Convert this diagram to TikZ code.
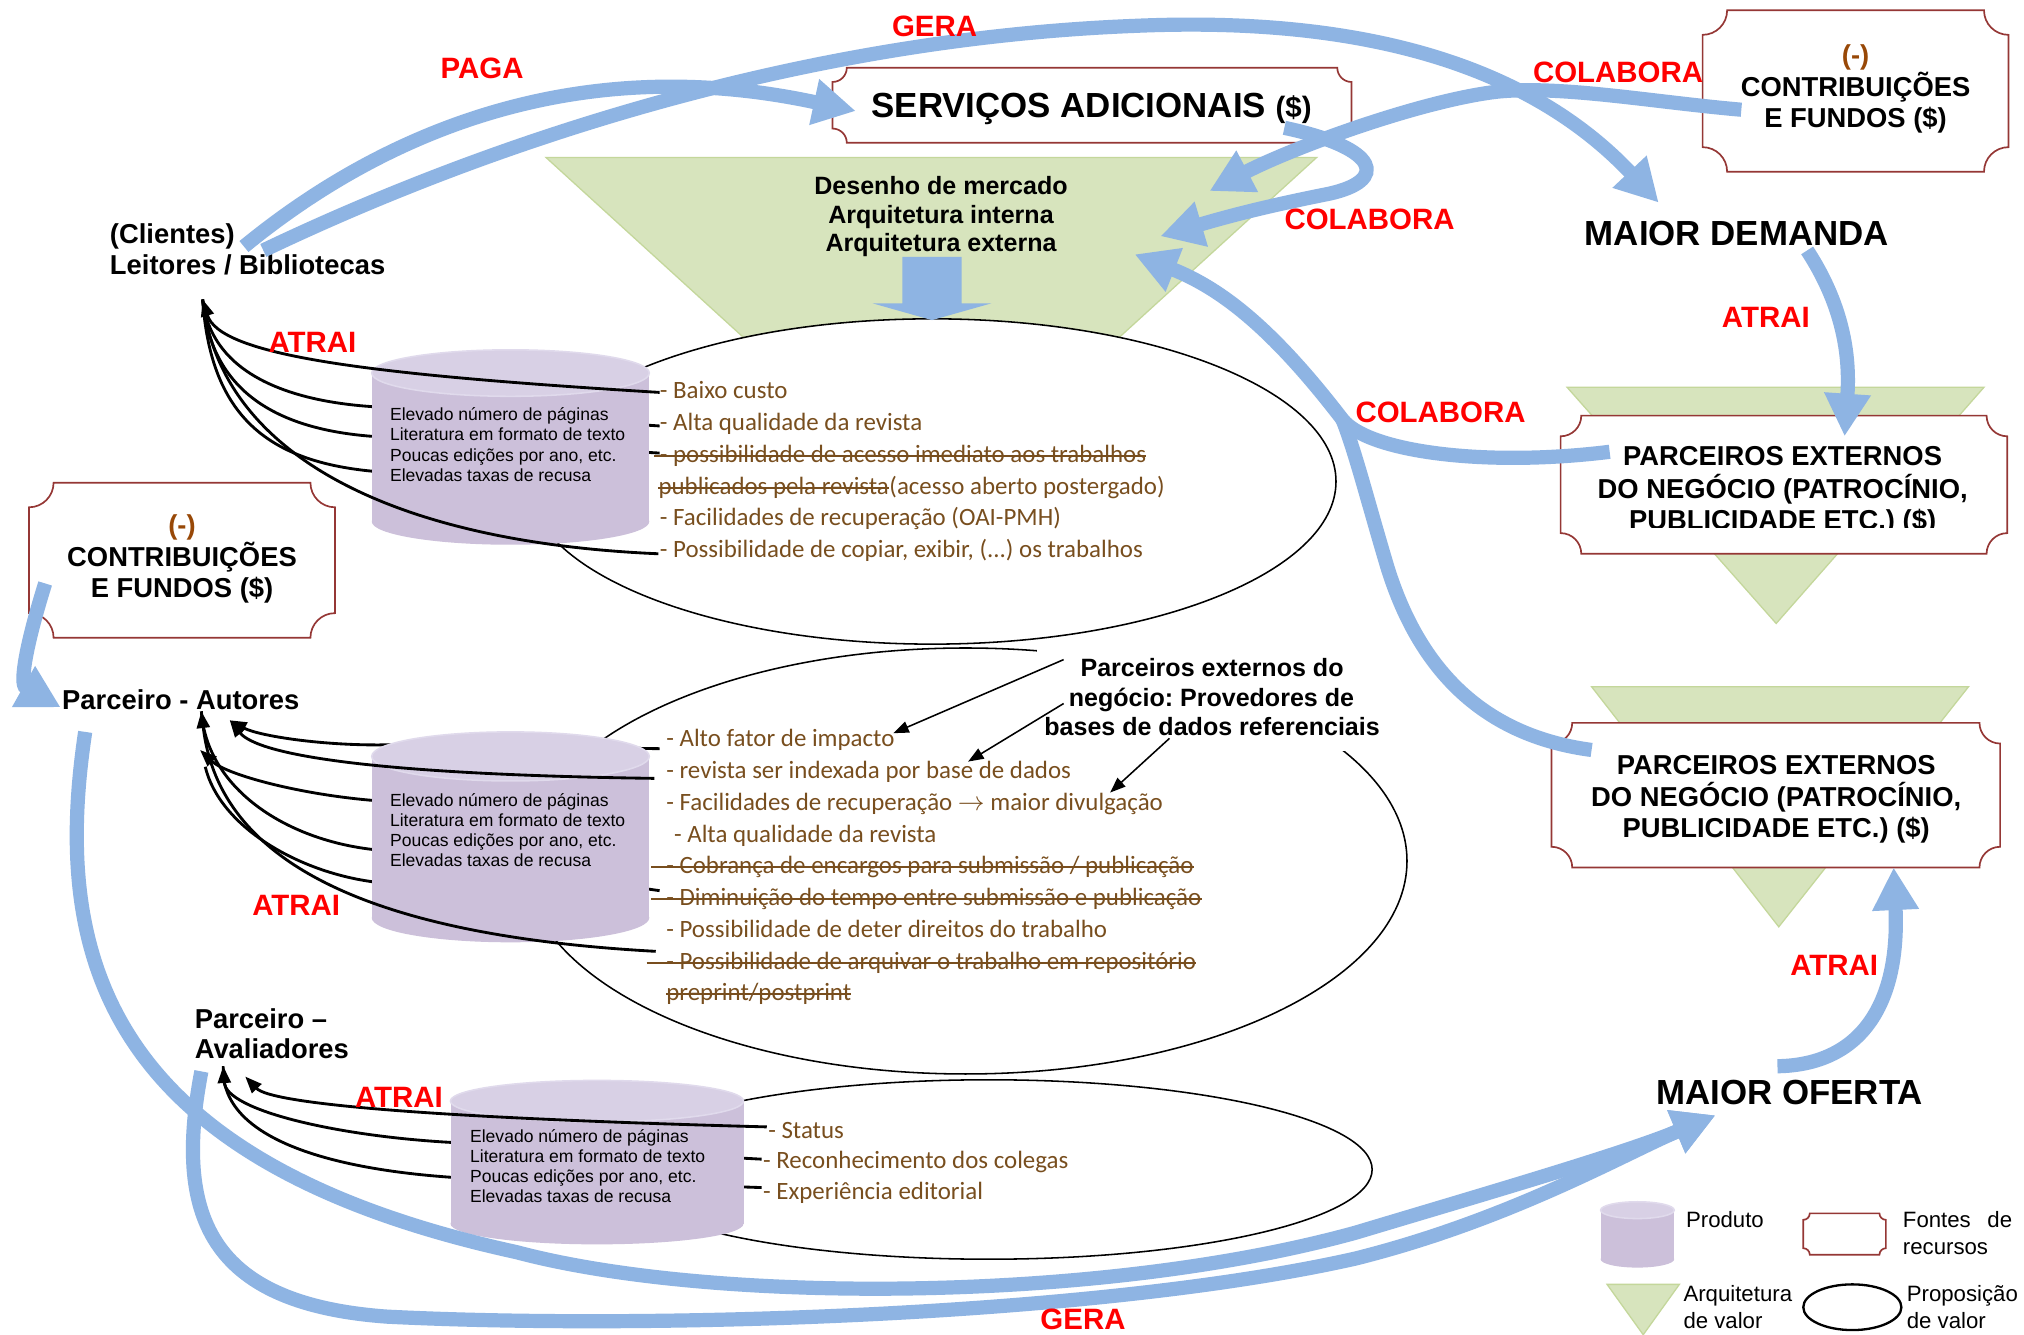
\documentclass[tikz,border=0pt]{standalone}
\usepackage{fontspec}
\setmainfont{Liberation Sans}
\newfontfamily\itemfont{Carlito}
\usetikzlibrary{arrows.meta}
\frenchspacing

\definecolor{flowblue}{RGB}{142,180,227}
\definecolor{archgreen}{RGB}{215,228,189}
\definecolor{archedge}{RGB}{196,215,155}
\definecolor{cylbody}{RGB}{204,192,218}
\definecolor{cyltop}{RGB}{216,208,229}
\definecolor{cylrim}{RGB}{224,218,236}
\definecolor{plaqueedge}{RGB}{149,55,53}
\definecolor{itembrown}{RGB}{120,78,30}
\definecolor{minusbrown}{RGB}{152,72,7}

% box with concave (scooped) corners: style, x0, y0, x1, y1, corner radius
\newcommand\drawplaque[6]{%
  \pgfmathsetmacro\pqL{#2}\pgfmathsetmacro\pqT{#3}%
  \pgfmathsetmacro\pqR{#4}\pgfmathsetmacro\pqB{#5}%
  \pgfmathsetmacro\pqr{#6}\pgfmathsetmacro\pqk{0.552*#6}%
  \pgfmathsetmacro\pqLi{\pqL+\pqr}\pgfmathsetmacro\pqRi{\pqR-\pqr}%
  \pgfmathsetmacro\pqTi{\pqT+\pqr}\pgfmathsetmacro\pqBi{\pqB-\pqr}%
  \pgfmathsetmacro\pqLk{\pqL+\pqk}\pgfmathsetmacro\pqRk{\pqR-\pqk}%
  \pgfmathsetmacro\pqTk{\pqT+\pqk}\pgfmathsetmacro\pqBk{\pqB-\pqk}%
  \draw[#1] (\pqLi,\pqT) -- (\pqRi,\pqT)
    .. controls (\pqRi,\pqTk) and (\pqRk,\pqTi) .. (\pqR,\pqTi)
    -- (\pqR,\pqBi)
    .. controls (\pqRk,\pqBi) and (\pqRi,\pqBk) .. (\pqRi,\pqB)
    -- (\pqLi,\pqB)
    .. controls (\pqLi,\pqBk) and (\pqLk,\pqBi) .. (\pqL,\pqBi)
    -- (\pqL,\pqTi)
    .. controls (\pqLk,\pqTi) and (\pqLi,\pqTk) .. (\pqLi,\pqT) -- cycle;
}
% product cylinder: x0, x1, top centre y, bottom centre y, y radius
\newcommand\drawcyl[5]{%
  \pgfmathsetmacro\cyc{(#1+#2)/2}\pgfmathsetmacro\cyrx{(#2-#1)/2}%
  \fill[cylbody] (#1,#3) rectangle (#2,#4);
  \fill[cylbody] (\cyc,#4) ellipse ({\cyrx} and {#5});
  \filldraw[fill=cyltop,draw=cylrim,line width=1.2pt] (\cyc,#3) ellipse ({\cyrx} and {#5});
}

\begin{document}
\begin{tikzpicture}[x=1pt,y=-1pt,
  archtri/.style={fill=archgreen,draw=archedge,line width=1pt},
  propell/.style={fill=white,draw=black,line width=1.2pt},
  plaquebox/.style={fill=white,draw=plaqueedge,line width=1.3pt},
  flowband/.style={draw=flowblue,line width=11pt},
  flowhead/.style={flowband,-{Triangle[length=33pt,width=34pt]}},
  linkline/.style={draw=black,line width=2.2pt},
  linkhead/.style={linkline,{Triangle[length=13pt,width=10pt]}-},
  ptrline/.style={draw=black,line width=1.2pt,-{Triangle[length=12pt,width=9pt]}},
  strikeline/.style={draw=itembrown,line width=1.5pt},
  redlbl/.style={font=\bfseries\fontsize{22.8}{27}\selectfont,text=red,inner sep=0,anchor=base},
  biglbl/.style={font=\bfseries\fontsize{27}{32}\selectfont,inner sep=0,anchor=base},
  boldlbl/.style={font=\bfseries\fontsize{21.2}{25}\selectfont,inner sep=0,anchor=base},
  midlbl/.style={font=\bfseries\fontsize{19.4}{23}\selectfont,inner sep=0,anchor=base},
  itemtxt/.style={font=\itemfont\fontsize{19.3}{24.6}\selectfont,text=itembrown,inner sep=0,anchor=base west},
  cyltxt/.style={font=\fontsize{13.6}{15.6}\selectfont,inner sep=0,anchor=base west},
  legtxt/.style={font=\fontsize{17.2}{21}\selectfont,inner sep=0,anchor=base west}
]
\useasboundingbox (0,0) rectangle (1568,1034);
\fill[white] (0,0) rectangle (1568,1034);

% ---------- value architecture (green triangles)
\filldraw[archtri] (423,122) -- (1020,122) -- (721.5,394) -- cycle;
\filldraw[archtri] (1214,300) -- (1537,300) -- (1376,483) -- cycle;
\filldraw[archtri] (1233,532) -- (1525,532) -- (1378,718) -- cycle;

% ---------- value propositions
\filldraw[propell] (722,373) ellipse (313 and 126);
\filldraw[propell] (748,667) ellipse (342 and 165);
\filldraw[propell] (766,906) ellipse (297 and 69.5);

% block arrow from the architecture into the proposition
\fill[flowblue] (699,199) -- (745,199) -- (745,235) -- (768,235) -- (722,248)
  -- (676,235) -- (699,235) -- cycle;

% ---------- connector end points
\coordinate (t1) at (157,232);
\coordinate (a1) at (156,551);
\coordinate (a2) at (178,558);
\coordinate (a3) at (155,581);
\coordinate (a4) at (159,594);
\coordinate (v1) at (173,826);
\coordinate (v2) at (190,834);

% ---------- links passing behind the products
\draw[linkline] (t1) .. controls (163,285) and (215,310) .. (288,315) -- (511,330);
\draw[linkline] (t1) .. controls (163,300) and (210,332) .. (288,338) -- (511,351);
\draw[linkline] (t1) .. controls (163,320) and (205,357) .. (288,365) -- (480,395);
\draw[linkhead] (a2) .. controls (200,570) and (250,578) .. (301,577) -- (511,580);
\draw[linkhead] (a3) .. controls (175,600) and (230,615) .. (288,620) -- (480,630);
\draw[linkline] (a1) .. controls (160,610) and (220,650) .. (288,658) -- (511,690);
\draw[linkline] (a4) .. controls (170,640) and (230,675) .. (288,683) -- (480,700);
\draw[linkhead] (v1) .. controls (175,860) and (260,880) .. (349,885) -- (590,898);
\draw[linkline] (v1) .. controls (170,880) and (250,905) .. (349,912) -- (590,920);

% ---------- products
\drawcyl{288}{503}{289}{404}{18}
\drawcyl{288}{503}{586}{711}{19}
\drawcyl{349}{576}{853}{948}{16}

% ---------- links drawn over the products
\draw[linkhead] (t1) .. controls (170,275) and (280,290) .. (511,304);
\draw[linkline] (t1) .. controls (170,350) and (300,420) .. (510,429);
\draw[linkhead] (a2) .. controls (200,585) and (290,600) .. (507,603);
\draw[linkhead] (a1) .. controls (170,670) and (290,725) .. (508,737);
\draw[linkhead] (v2) .. controls (210,855) and (330,866) .. (594,873);

% ---------- product contents
\node[cyltxt] (pa1) at (302,326) {Elevado número de páginas};
\node[cyltxt] (pa2) at (302,341.6) {Literatura em formato de texto};
\node[cyltxt] (pa3) at (302,357.2) {Poucas edições por ano, etc.};
\node[cyltxt] (pa4) at (302,372.8) {Elevadas taxas de recusa};
\node[cyltxt] (pb1) at (302,624.4) {Elevado número de páginas};
\node[cyltxt] (pb2) at (302,640) {Literatura em formato de texto};
\node[cyltxt] (pb3) at (302,655.6) {Poucas edições por ano, etc.};
\node[cyltxt] (pb4) at (302,671.2) {Elevadas taxas de recusa};
\node[cyltxt] (pc1) at (364,885) {Elevado número de páginas};
\node[cyltxt] (pc2) at (364,900.6) {Literatura em formato de texto};
\node[cyltxt] (pc3) at (364,916.2) {Poucas edições por ano, etc.};
\node[cyltxt] (pc4) at (364,931.8) {Elevadas taxas de recusa};

% ---------- proposition items: readers / libraries
\node[itemtxt] (r1) at (511,309) {- Baixo custo};
\node[itemtxt] (r2) at (511,333.6) {- Alta qualidade da revista};
\node[itemtxt] (r3) at (511,358.2) {- possibilidade de acesso imediato aos trabalhos};
\node[itemtxt] (r4a) at (510,382.8) {publicados pela revista\ };
\node[itemtxt] (r4b) at (r4a.base east) {(acesso aberto postergado)};
\node[itemtxt] (r5) at (511,407.4) {- Facilidades de recuperação (OAI-PMH)};
\node[itemtxt] (r6) at (511,432) {- Possibilidade de copiar, exibir, (...) os trabalhos};
\draw[strikeline] ([xshift=-4pt,yshift=5pt]r3.base west) -- ([yshift=5pt]r3.base east);
\draw[strikeline] ([yshift=5pt]r4a.base west) -- ([yshift=5pt]r4a.base east);

% ---------- proposition items: authors
\node[itemtxt] (u1) at (516,578.5) {- Alto fator de impacto};
\node[itemtxt] (u2) at (516,603.1) {- revista ser indexada por base de dados};
\node[itemtxt] (u3) at (516,627.7) {- Facilidades de recuperação $\rightarrow$ maior divulgação};
\node[itemtxt] (u4) at (522,652.3) {- Alta qualidade da revista};
\node[itemtxt] (u5) at (516,676.9) {- Cobrança de encargos para submissão / publicação};
\node[itemtxt] (u6) at (516,701.5) {- Diminuição do tempo entre submissão e publicação};
\node[itemtxt] (u7) at (516,726.1) {- Possibilidade de deter direitos do trabalho};
\node[itemtxt] (u8) at (516,750.7) {- Possibilidade de arquivar o trabalho em repositório};
\node[itemtxt] (u9) at (516,775.3) {preprint/postprint};
\draw[strikeline] ([xshift=-11.5pt,yshift=5pt]u5.base west) -- ([yshift=5pt]u5.base east);
\draw[strikeline] ([xshift=-11.5pt,yshift=5pt]u6.base west) -- ([yshift=5pt]u6.base east);
\draw[strikeline] ([xshift=-15pt,yshift=5pt]u8.base west) -- ([yshift=5pt]u8.base east);
\draw[strikeline] ([yshift=5pt]u9.base west) -- ([yshift=5pt]u9.base east);

% ---------- proposition items: reviewers
\node[itemtxt] (w1) at (595,882) {- Status};
\node[itemtxt] (w2) at (591,905.5) {- Reconhecimento dos colegas};
\node[itemtxt] (w3) at (591,929) {- Experiência editorial};

% ---------- architecture text
\node[midlbl] (arq1) at (729,151) {Desenho de mercado};
\node[midlbl] (arq2) at (729,173) {Arquitetura interna};
\node[midlbl] (arq3) at (729,195) {Arquitetura externa};

% ---------- external partners note
\fill[white] (803,499) rectangle (1075,582);
\node[midlbl] (ext1) at (939,524) {Parceiros externos do};
\node[midlbl] (ext2) at (938.5,547) {negócio: Provedores de};
\node[midlbl] (ext3) at (939,570) {bases de dados referenciais};
\coordinate (e1s) at (824,511);  \coordinate (e1t) at (692,568);
\coordinate (e2s) at (824,545);  \coordinate (e2t) at (750,590);
\coordinate (e3s) at (906,572);  \coordinate (e3t) at (860,614);
\draw[ptrline] (e1s) -- (e1t);
\draw[ptrline] (e2s) -- (e2t);
\draw[ptrline] (e3s) -- (e3t);

% ---------- actors and outcomes
\node[boldlbl,anchor=base west] (cli1) at (85,189) {(Clientes)};
\node[boldlbl,anchor=base west] (cli2) at (85,213) {Leitores / Bibliotecas};
\node[boldlbl,anchor=base west] (aut) at (48,550) {Parceiro - Autores};
\node[boldlbl,anchor=base west] (ava1) at (150.7,797) {Parceiro –};
\node[boldlbl,anchor=base west] (ava2) at (150.7,820) {Avaliadores};
\node[biglbl] (dem) at (1345.5,190) {MAIOR DEMANDA};
\node[biglbl] (ofe) at (1386.5,856) {MAIOR OFERTA};

% ---------- resource boxes
\drawplaque{plaquebox}{645}{52.5}{1047}{110.6}{11}
\node[biglbl,anchor=base west] (serv) at (675,91) {SERVIÇOS ADICIONAIS {\fontsize{22.8}{27}\selectfont(\$)}};

\drawplaque{plaquebox}{1319}{8}{1556}{133}{19}
\node[boldlbl,text=minusbrown] (cfA0) at (1437.5,50) {(-)};
\node[boldlbl] (cfA1) at (1437.5,75) {CONTRIBUIÇÕES};
\node[boldlbl] (cfA2) at (1437.5,99) {E FUNDOS (\$)};

\drawplaque{plaquebox}{22.5}{374}{259.5}{494}{19}
\node[boldlbl,text=minusbrown] (cfB0) at (141,414) {(-)};
\node[boldlbl] (cfB1) at (141,438.5) {CONTRIBUIÇÕES};
\node[boldlbl] (cfB2) at (141,463) {E FUNDOS (\$)};

\drawplaque{plaquebox}{1209}{322}{1555}{429}{16}
\node[boldlbl] (pxA1) at (1381,361) {PARCEIROS EXTERNOS};
\node[boldlbl] (pxA2) at (1381,386) {DO NEGÓCIO (PATROCÍNIO,};
\begin{scope}
  \clip (1212,390) rectangle (1552,409);
  \node[boldlbl] (pxA3) at (1381,410) {PUBLICIDADE ETC.) (\$)};
\end{scope}

\drawplaque{plaquebox}{1202}{560}{1549.5}{672}{16}
\node[boldlbl] (pxB1) at (1376,600) {PARCEIROS EXTERNOS};
\node[boldlbl] (pxB2) at (1376,625) {DO NEGÓCIO (PATROCÍNIO,};
\node[boldlbl] (pxB3) at (1376,649) {PUBLICIDADE ETC.) (\$)};

% ---------- flows
\draw[flowhead] (189,191) .. controls (300,100) and (450,40) .. (663,86);
\draw[flowhead] (204,194) .. controls (380,110) and (620,30) .. (880,20)
  .. controls (1020,14) and (1170,35) .. (1285,157);
\draw[flowhead] (1349,85) .. controls (1280,79) and (1210,66) .. (1160,71)
  .. controls (1100,78) and (1000,115) .. (937,148);
\draw[flowhead] (995,99) .. controls (1070,115) and (1075,140) .. (1030,150)
  .. controls (990,158) and (960,165) .. (899,183);
\draw[flowband] (1233,581) .. controls (1150,570) and (1100,520) .. (1075,440)
  .. controls (1060,390) and (1050,350) .. (1040,325);
\draw[flowhead] (1247,350) .. controls (1150,362) and (1060,350) .. (1040,325)
  .. controls (990,260) and (950,225) .. (879,197);
\draw[flowhead] (1400,194) .. controls (1430,240) and (1433,280) .. (1429,338);
\draw[flowhead] (1377,826) .. controls (1440,825) and (1472,780) .. (1467,672);
\draw[flowhead] (35,452) .. controls (20,500) and (15,530) .. (47,548);
\draw[flowhead] (66,567) .. controls (40,740) and (80,900) .. (400,970)
  .. controls (550,1010) and (850,1010) .. (1050,955)
  .. controls (1150,925) and (1260,893) .. (1329,864);
\draw[flowhead] (156,830) .. controls (135,940) and (160,1010) .. (300,1020)
  .. controls (500,1030) and (850,1020) .. (1050,975)
  .. controls (1170,945) and (1260,893) .. (1329,864);

% ---------- flow labels (set over the flows)
\node[redlbl] (lgeraT) at (724,28) {GERA};
\node[redlbl] (lpaga) at (373.5,61) {PAGA};
\node[redlbl] (lcolA) at (1253.5,64) {COLABORA};
\node[redlbl] (lcolB) at (1061,178) {COLABORA};
\node[redlbl] (lcolC) at (1116,327) {COLABORA};
\node[redlbl] (latrA) at (242,273) {ATRAI};
\node[redlbl] (latrB) at (1368,254) {ATRAI};
\node[redlbl] (latrC) at (229.5,709) {ATRAI};
\node[redlbl] (latrD) at (1421,756) {ATRAI};
\node[redlbl] (latrE) at (309,858) {ATRAI};
\node[redlbl] (lgeraB) at (839,1030) {GERA};

% ---------- legend
\drawcyl{1240}{1297}{937.5}{975.5}{6.5}
\node[legtxt] (lgP) at (1306,951) {Produto};
\drawplaque{plaquebox}{1397}{940}{1461}{972}{5}
\node[legtxt] (lgF1) at (1474,951) {Fontes};
\node[legtxt,anchor=base east] (lgF2) at (1559,951) {de};
\node[legtxt] (lgF3) at (1474,972) {recursos};
\filldraw[archtri] (1245,995) -- (1301,995) -- (1273,1034) -- cycle;
\node[legtxt] (lgA1) at (1304,1008) {Arquitetura};
\node[legtxt] (lgA2) at (1304,1029) {de valor};
\draw[black,line width=1.8pt] (1435,1012.7) ellipse (38 and 17.7);
\node[legtxt] (lgV1) at (1477,1008) {Proposição};
\node[legtxt] (lgV2) at (1477,1029) {de valor};
\end{tikzpicture}
\end{document}
